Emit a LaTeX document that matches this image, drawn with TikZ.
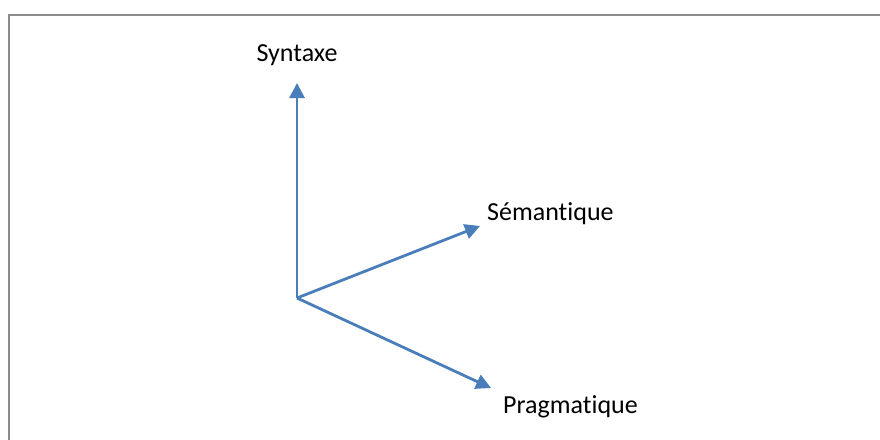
\documentclass[tikz,border=0pt]{standalone}
\usepackage{fontspec}
\setmainfont[Ligatures=NoCommon]{Carlito}
\usepackage{xcolor}
\usetikzlibrary{arrows.meta,positioning}

\definecolor{axisblue}{HTML}{4A7EBB}
\definecolor{framegray}{HTML}{8C8C8C}

\begin{document}
\begin{tikzpicture}[x=1pt, y=-1pt, font=\fontsize{26}{30}\selectfont,
        axis/.style={draw=axisblue, line width=2.8pt, -{Triangle[length=15pt, width=15pt]}}]
        \clip (0,0) rectangle (880,439);
        \useasboundingbox (0,0) rectangle (880,439);
        % frame
        \draw[framegray, line width=1.8pt] (9,15) rectangle (900,470);
        % axes
        \coordinate (origin) at (297,298);
        \coordinate (syntip) at (297,83);
        \coordinate (semtip) at (480,226);
        \coordinate (pragtip) at (491,388);
        \draw[axis] (origin) -- (syntip);
        \draw[axis] (origin) -- (semtip);
        \draw[axis] (origin) -- (pragtip);
        % labels
        \node (syntaxe) at (297,55) {Syntaxe};
        \node[anchor=west, inner sep=0pt] (semantique) at (487,214) {Sémantique};
        \node[anchor=west, inner sep=0pt] (pragmatique) at (503,407) {Pragmatique};
    \end{tikzpicture}
\end{document}
